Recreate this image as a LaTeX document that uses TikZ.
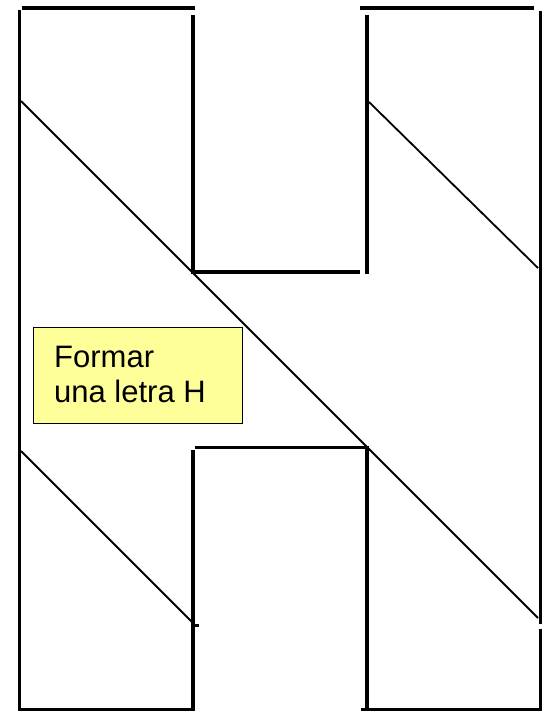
\documentclass[tikz,border=0pt]{standalone}
\usepackage{fontspec}
\setmainfont{Liberation Sans}
\definecolor{notefill}{HTML}{FFFF99}
\begin{document}
\begin{tikzpicture}[x=1pt,y=-1pt,
  wall/.style={line width=3.8pt, line cap=butt, line join=miter},
  diag/.style={line width=1.8pt},
  note/.style={draw=black, line width=0.9pt, fill=notefill, inner sep=0pt},
  notetext/.style={inner sep=0pt, align=left, font=\fontsize{31}{35}\selectfont}]
\useasboundingbox (0,0) rectangle (556,713);
% left column
\draw[wall] (22,8) -- (195,8);
\draw[wall] (19.5,10) -- (19.5,709.5) -- (193,709.5) -- (193,450);
\draw[wall] (193,15) -- (193,272) -- (360,272);
% right column
\draw[wall] (360,8) -- (534,8);
\draw[wall] (366.8,15) -- (366.8,274);
\draw[wall] (540.5,11) -- (540.5,623.5);
\draw[wall] (195,447.5) -- (366.8,447.5) -- (366.8,709.5);
\draw[wall] (361,709.5) -- (540.5,709.5) -- (540.5,628.5);
% diagonals
\draw[diag] (21,101) -- (538,618);
\draw[diag] (369,102) -- (538,268);
\draw[diag] (21,451) -- (195,625);
\draw[wall] (193,625.5) -- (199,625.5);
% note
\node[note, minimum width=209pt, minimum height=96pt, anchor=north west] (box) at (33,327) {};
\node[notetext, anchor=north west] (txt) at (54,345.5) {Formar\\una letra H};
\end{tikzpicture}
\end{document}
